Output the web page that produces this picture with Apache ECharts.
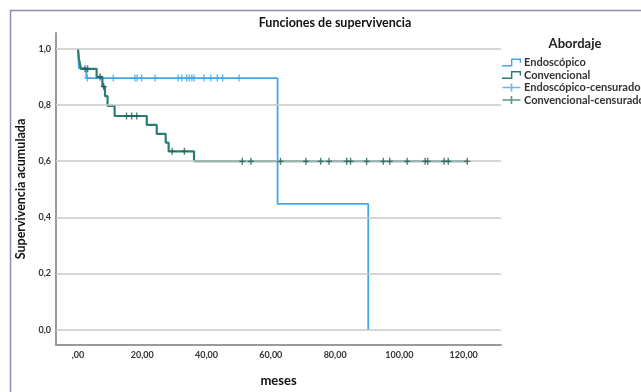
<!DOCTYPE html>
<html>
<head>
<meta charset="utf-8">
<script src="https://cdn.jsdelivr.net/npm/echarts@6/dist/echarts.min.js"></script>
<style>
  html, body { margin: 0; padding: 0; background: #fff; }
  #chart { width: 641px; height: 392px; }
</style>
</head>
<body>
<div id="chart"></div>
<script>
// Kaplan-Meier survival curves by surgical approach (months)
const endoTimes = [0, 0.3, 2.6, 62.1, 90.3];
const endoSurv  = [1.0, 0.931, 0.896, 0.448, 0.0];

const convTimes = [0, 0.3, 0.9, 5.8, 7.6, 8.4, 9.2, 11.4, 21.4, 24.5, 27.3, 28.2, 36.1, 121.1];
const convSurv  = [1.0, 0.964, 0.929, 0.900, 0.866, 0.832, 0.797, 0.761, 0.729, 0.697, 0.666, 0.635, 0.600, 0.600];

// censored observations
const endoCensTimes = [2.9, 11.0, 17.7, 18.4, 19.8, 24.0, 31.2, 32.3, 33.8, 34.6, 35.4, 36.1, 39.2, 41.3, 43.3, 45.0, 50.1];
const endoCensSurv  = [0.896, 0.896, 0.896, 0.896, 0.896, 0.896, 0.896, 0.896, 0.896, 0.896, 0.896, 0.896, 0.896, 0.896, 0.896, 0.896, 0.896];

const convCensTimes = [2.2, 3.0, 6.9, 8.0, 15.1, 16.7, 18.3, 29.3, 33.1,
  51.1, 53.8, 63.0, 70.9, 75.5, 78.1, 83.6, 84.8, 89.8, 95.0, 97.0, 102.4, 108.0, 108.8, 113.9, 115.2, 121.1];
const convCensSurv  = [0.929, 0.929, 0.900, 0.866, 0.761, 0.761, 0.761, 0.635, 0.635,
  0.6, 0.6, 0.6, 0.6, 0.6, 0.6, 0.6, 0.6, 0.6, 0.6, 0.6, 0.6, 0.6, 0.6, 0.6, 0.6, 0.6];

const yTicks = [0, 0.2, 0.4, 0.6, 0.8, 1.0];
const xTicks = [0, 20, 40, 60, 80, 100, 120];

const seriesNames = ['Endoscópico', 'Convencional', 'Endoscópico-censurado', 'Convencional-censurado'];

const BLUE = '#45a6e2';
const GREEN = '#2b7d71';
const GREEN_DARK = '#1f5d54';
const FONT = 'Lato';

const pairs = (xs, ys) => xs.map((x, i) => [x, ys[i]]);

const stepIcon = 'path://M0,6.8 L8,6.8 L8,1 L17,1 L17,5 L15.8,5 L15.8,2.3 L9.3,2.3 L9.3,8 L0,8 Z';
const censIcon = 'path://M0,3.2 L18,3.2 L18,4.8 L0,4.8 Z M8.2,0 L9.8,0 L9.8,8 L8.2,8 Z';
const plusMark = 'path://M2.3,0 L3.7,0 L3.7,3 L6,3 L6,4.2 L3.7,4.2 L3.7,7 L2.3,7 L2.3,4.2 L0,4.2 L0,3 L2.3,3 Z';

const fmtX = v => v === 0 ? ',00' : v.toFixed(2).replace('.', ',');
const fmtY = v => v.toFixed(1).replace('.', ',');

const chart = echarts.init(document.getElementById('chart'), null, { renderer: 'canvas' });

chart.setOption({
  animation: false,
  backgroundColor: '#ffffff',
  textStyle: { fontFamily: FONT },
  grid: { left: 56, right: 140, top: 33, bottom: 38, containLabel: false },
  graphic: [
    {
      type: 'rect', silent: true, z: -1,
      shape: { x: 10.5, y: 10.5, width: 900, height: 600 },
      style: { fill: 'none', stroke: '#8b8bb3', lineWidth: 1.5 }
    },
    {
      type: 'text', silent: true,
      style: {
        x: 335, y: 23, text: 'Funciones de supervivencia',
        textAlign: 'center', textVerticalAlign: 'middle',
        font: 'bold 12.5px ' + FONT, fill: '#111'
      }
    },
    {
      type: 'text', silent: true,
      style: {
        x: 575, y: 44, text: 'Abordaje',
        textAlign: 'center', textVerticalAlign: 'middle',
        font: 'bold 13px ' + FONT, fill: '#222'
      }
    }
  ],
  legend: {
    orient: 'vertical',
    left: 502,
    top: 57,
    itemWidth: 19,
    itemHeight: 8,
    itemGap: 1.5,
    padding: 0,
    selectedMode: false,
    textStyle: { fontFamily: FONT, fontSize: 11, fontWeight: 'bold', color: '#333', padding: [0, 0, 0, -2] },
    data: [
      { name: seriesNames[0], icon: stepIcon, itemStyle: { color: BLUE } },
      { name: seriesNames[1], icon: stepIcon, itemStyle: { color: GREEN } },
      { name: seriesNames[2], icon: censIcon, itemStyle: { color: BLUE } },
      { name: seriesNames[3], icon: censIcon, itemStyle: { color: GREEN } }
    ]
  },
  xAxis: {
    type: 'value',
    min: -6.84,
    max: 131.6,
    name: 'meses',
    nameLocation: 'middle',
    nameGap: 29,
    nameTextStyle: { fontFamily: FONT, fontWeight: 'bold', fontSize: 13, color: '#111' },
    axisLine: { show: true, onZero: false, lineStyle: { color: '#9a9a9a', width: 2 } },
    axisTick: { show: false },
    splitLine: { show: false },
    axisLabel: {
      customValues: xTicks,
      formatter: fmtX,
      margin: 6,
      fontFamily: FONT, fontSize: 9, fontWeight: 'bold', color: '#333'
    }
  },
  yAxis: {
    type: 'value',
    min: -0.0543,
    max: 1.0564,
    name: 'Supervivencia acumulada',
    nameLocation: 'middle',
    nameGap: 25,
    nameRotate: 90,
    nameTextStyle: { fontFamily: FONT, fontWeight: 'bold', fontSize: 12.5, color: '#111' },
    axisLine: { show: true, onZero: false, lineStyle: { color: '#9a9a9a', width: 2 } },
    axisTick: { show: false },
    splitLine: { show: false },
    axisLabel: {
      customValues: yTicks,
      formatter: fmtY,
      margin: 5,
      fontFamily: FONT, fontSize: 9, fontWeight: 'bold', color: '#333'
    }
  },
  series: [
    {
      // reference lines across the plot
      name: 'grid', type: 'line', data: [], z: 1, silent: true,
      markLine: {
        silent: true, symbol: 'none', animation: false,
        label: { show: false },
        lineStyle: { color: '#c9c9c9', width: 1.5, type: 'solid' },
        data: yTicks.map(v => ({ yAxis: v }))
      }
    },
    {
      name: seriesNames[0], type: 'line', step: 'end', z: 3,
      data: pairs(endoTimes, endoSurv),
      showSymbol: false, symbol: 'none',
      color: BLUE,
      lineStyle: { color: BLUE, width: 1.8 }
    },
    {
      name: seriesNames[1], type: 'line', step: 'end', z: 4,
      data: pairs(convTimes, convSurv),
      showSymbol: false, symbol: 'none',
      color: GREEN,
      lineStyle: { color: GREEN, width: 2.2 }
    },
    {
      name: seriesNames[2], type: 'scatter', z: 5,
      data: pairs(endoCensTimes, endoCensSurv),
      symbol: plusMark, symbolSize: [6, 7],
      color: BLUE,
      itemStyle: { color: BLUE }
    },
    {
      name: seriesNames[3], type: 'scatter', z: 6,
      data: pairs(convCensTimes, convCensSurv),
      symbol: plusMark, symbolSize: [6, 7],
      color: GREEN_DARK,
      itemStyle: { color: GREEN_DARK }
    }
  ]
});
</script>
</body>
</html>
